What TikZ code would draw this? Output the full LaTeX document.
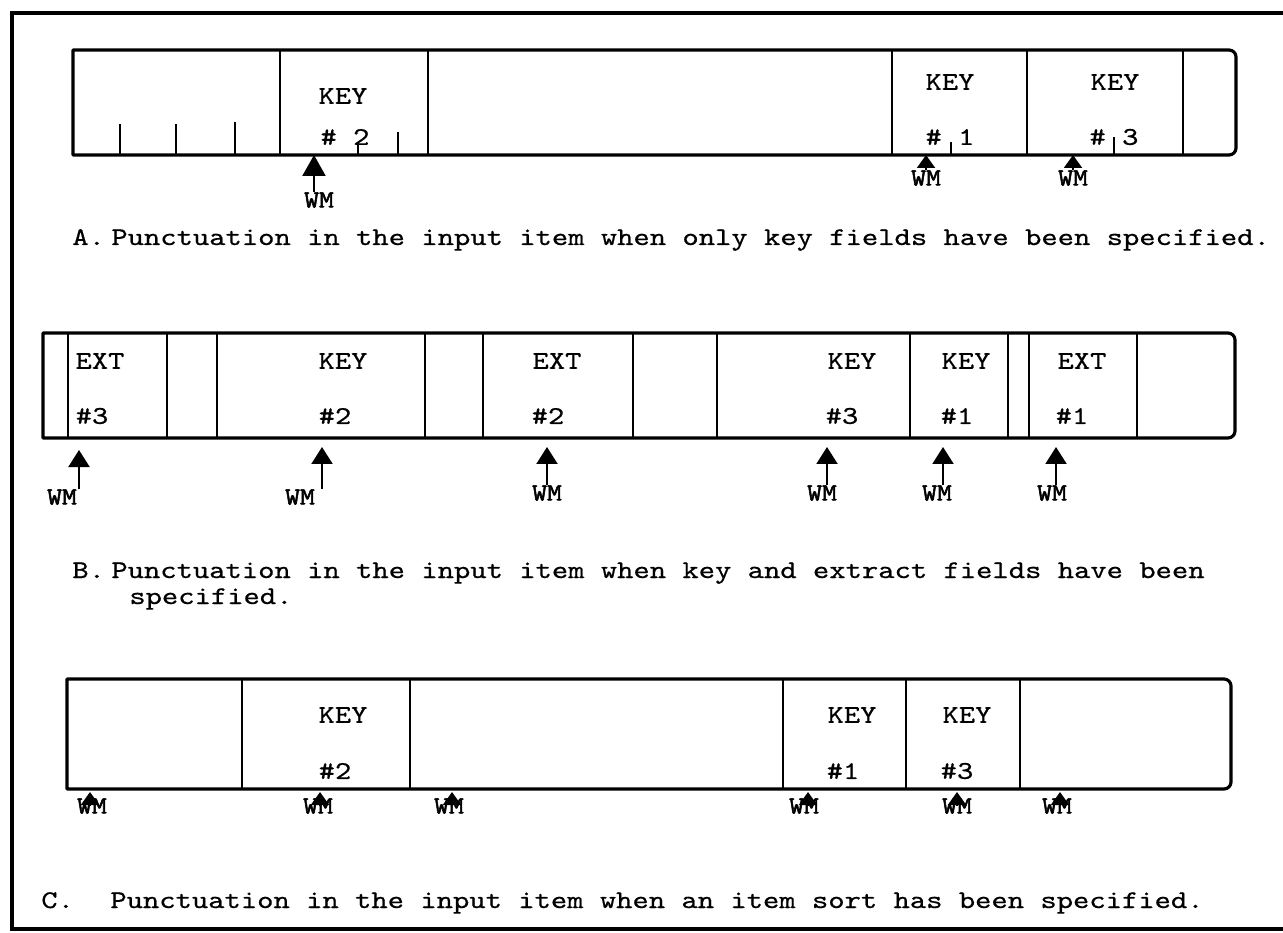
\documentclass[tikz,border=0pt]{standalone}
\usepackage{fontspec}
\newfontfamily\typewriter{lmmono10-regular.otf}[FakeStretch=1.22,FakeBold=0.6]
\newfontfamily\markfont{lmmono10-regular.otf}[FakeStretch=1.15,FakeBold=2.2]
\newcommand{\typeset}{\typewriter\fontsize{14.5}{17}\selectfont}
\newcommand{\markset}{\markfont\fontsize{14}{16}\selectfont}
\usetikzlibrary{arrows.meta}

\begin{document}
\begin{tikzpicture}[
    x=0.02cm,
    y=-0.02cm,
    frame/.style={
        line width=2.4pt
    },
    rowbox/.style={
        line width=1.8pt,
        line join=round
    },
    divider/.style={
        line width=1.5pt
    },
    tick/.style={
        line width=1.3pt
    },
    field/.style={
        font=\typeset,
        inner sep=0pt
    },
    wm/.style={
        font=\markset,
        inner sep=0pt
    },
    caption/.style={
        font=\typeset,
        inner sep=0pt,
        anchor=base west
    },
    bigarr/.style={
        -{Triangle[length=0.42cm,width=0.46cm]},
        line width=1.2pt
    },
    midarr/.style={
        -{Triangle[length=0.34cm,width=0.42cm]},
        line width=1.2pt
    },
    smallarr/.style={
        -{Triangle[length=0.26cm,width=0.36cm]},
        line width=1.2pt
    }
]

    \useasboundingbox (0,0) rectangle (1283,932);

    % outer frame
    \draw[frame] (1283,13) -- (12,13) -- (12,929) -- (1283,929);

    % A: key fields only
    \draw[rowbox] (73,155) -- (73,50) [rounded corners=4pt] -- (1236,50)
        -- (1236,155) [sharp corners] -- cycle;
    \draw[divider] (280,50) -- (280,155) (428,50) -- (428,155)
        (892,50) -- (892,155) (1027,50) -- (1027,155) (1183,50) -- (1183,155);
    \draw[tick] (120,155) -- (120,124) (176,155) -- (176,124)
        (235,155) -- (235,122) (358,155) -- (358,145) (398,155) -- (398,132)
        (951,155) -- (951,142) (1114,155) -- (1114,137);

    \node[field] (keyA2) at (343,96) {KEY};
    \node[field] (numA2) at (345,137) {\# 2};
    \node[field] (keyA1) at (950,82) {KEY};
    \node[field] (numA1) at (950,137) {\# 1};
    \node[field] (keyA3) at (1115,82) {KEY};
    \node[field] (numA3) at (1114,137) {\# 3};

    \node[wm] (wmA2) at (319,200) {WM};
    \coordinate (ptA2) at (314,155);
    \draw[bigarr] (wmA2.north -| ptA2) -- (ptA2);
    \node[wm] (wmA1) at (926,178) {WM};
    \coordinate (ptA1) at (926,155);
    \draw[smallarr] (wmA1.north -| ptA1) -- (ptA1);
    \node[wm] (wmA3) at (1073,178) {WM};
    \coordinate (ptA3) at (1073,155);
    \draw[smallarr] (wmA3.north -| ptA3) -- (ptA3);

    \node[caption] (labA) at (72,245) {A.};
    \node[caption] (capA) at (111,245)
        {Punctuation in the input item when only key fields have been specified.};

    % B: key and extract fields
    \draw[rowbox] (43,438) -- (43,333) [rounded corners=4pt] -- (1235,333)
        -- (1235,438) [sharp corners] -- cycle;
    \draw[divider] (68,333) -- (68,438) (167,333) -- (167,438)
        (217,333) -- (217,438) (425,333) -- (425,438) (483,333) -- (483,438)
        (633,333) -- (633,438) (717,333) -- (717,438) (910,333) -- (910,438)
        (1008,333) -- (1008,438) (1029,333) -- (1029,438) (1137,333) -- (1137,438);

    \node[field] (extB3) at (100,361) {EXT};
    \node[field] (extB3n) at (92,416) {\#3};
    \node[field] (keyB2) at (343,361) {KEY};
    \node[field] (keyB2n) at (335,416) {\#2};
    \node[field] (extB2) at (557,361) {EXT};
    \node[field] (extB2n) at (548,416) {\#2};
    \node[field] (keyB3) at (852,361) {KEY};
    \node[field] (keyB3n) at (842,416) {\#3};
    \node[field] (keyB1) at (966,361) {KEY};
    \node[field] (keyB1n) at (957,416) {\#1};
    \node[field] (extB1) at (1082,361) {EXT};
    \node[field] (extB1n) at (1072,416) {\#1};

    \node[wm] (wmB1) at (62,497) {WM};
    \coordinate (ptB1) at (79,450);
    \draw[midarr] (wmB1.north -| ptB1) -- (ptB1);
    \node[wm] (wmB2) at (300,497) {WM};
    \coordinate (ptB2) at (322,447);
    \draw[midarr] (wmB2.north -| ptB2) -- (ptB2);
    \node[wm] (wmB3) at (547,493) {WM};
    \coordinate (ptB3) at (547,447);
    \draw[midarr] (wmB3.north -| ptB3) -- (ptB3);
    \node[wm] (wmB4) at (822,493) {WM};
    \coordinate (ptB4) at (827,447);
    \draw[midarr] (wmB4.north -| ptB4) -- (ptB4);
    \node[wm] (wmB5) at (937,493) {WM};
    \coordinate (ptB5) at (943,447);
    \draw[midarr] (wmB5.north -| ptB5) -- (ptB5);
    \node[wm] (wmB6) at (1052,493) {WM};
    \coordinate (ptB6) at (1056,447);
    \draw[midarr] (wmB6.north -| ptB6) -- (ptB6);

    \node[caption] (labB) at (72,578) {B.};
    \node[caption] (capB) at (111,578)
        {Punctuation in the input item when key and extract fields have been};
    \node[caption] (capB2) at (129,604) {specified.};

    % C: item sort
    \draw[rowbox] (67,789) -- (67,679) [rounded corners=4pt] -- (1231,679)
        -- (1231,789) [sharp corners] -- cycle;
    \draw[divider] (242,679) -- (242,789) (410,679) -- (410,789)
        (783,679) -- (783,789) (906,679) -- (906,789) (1020,679) -- (1020,789);

    \node[field] (keyC2) at (343,715) {KEY};
    \node[field] (keyC2n) at (335,771) {\#2};
    \node[field] (keyC1) at (852,715) {KEY};
    \node[field] (keyC1n) at (843,771) {\#1};
    \node[field] (keyC3) at (967,715) {KEY};
    \node[field] (keyC3n) at (957,771) {\#3};

    \node[wm] (wmC1) at (92,806) {WM};
    \coordinate (ptC1) at (90,792);
    \draw[smallarr] (wmC1.center -| ptC1) -- (ptC1);
    \node[wm] (wmC2) at (318,806) {WM};
    \coordinate (ptC2) at (320,792);
    \draw[smallarr] (wmC2.center -| ptC2) -- (ptC2);
    \node[wm] (wmC3) at (449,806) {WM};
    \coordinate (ptC3) at (452,792);
    \draw[smallarr] (wmC3.center -| ptC3) -- (ptC3);
    \node[wm] (wmC4) at (804,806) {WM};
    \coordinate (ptC4) at (808,792);
    \draw[smallarr] (wmC4.center -| ptC4) -- (ptC4);
    \node[wm] (wmC5) at (957,806) {WM};
    \coordinate (ptC5) at (957,792);
    \draw[smallarr] (wmC5.center -| ptC5) -- (ptC5);
    \node[wm] (wmC6) at (1057,806) {WM};
    \coordinate (ptC6) at (1060,792);
    \draw[smallarr] (wmC6.center -| ptC6) -- (ptC6);

    \node[caption] (labC) at (41,908) {C.};
    \node[caption] (capC) at (110,908)
        {Punctuation in the input item when an item sort has been specified.};

\end{tikzpicture}
\end{document}
